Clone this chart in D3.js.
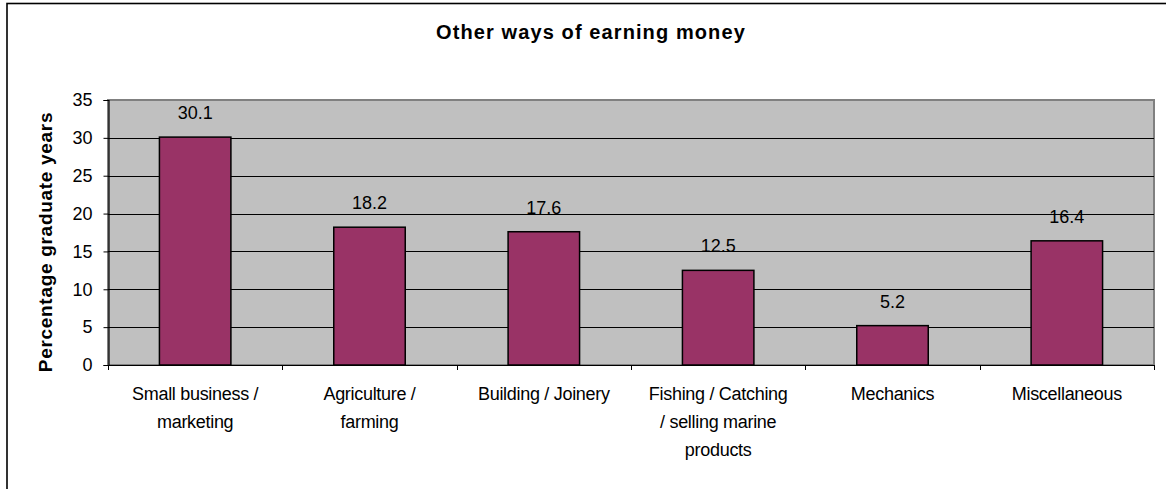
<!DOCTYPE html>
<html>
<head>
<meta charset="utf-8">
<script src="https://cdn.jsdelivr.net/npm/d3@7"></script>
<style>
  html, body { margin: 0; padding: 0; background: #ffffff; }
  svg { display: block; font-family: "Liberation Sans", Arial, sans-serif; }
</style>
</head>
<body>
<svg id="chart" width="1166" height="489"></svg>
<script>
// Chart data
const categories = [
  "Small business / marketing",
  "Agriculture / farming",
  "Building / Joinery",
  "Fishing / Catching / selling marine products",
  "Mechanics",
  "Miscellaneous"
];
const categoryLines = [
  ["Small business /", "marketing"],
  ["Agriculture /", "farming"],
  ["Building / Joinery"],
  ["Fishing / Catching", "/ selling marine", "products"],
  ["Mechanics"],
  ["Miscellaneous"]
];
const values = [30.1, 18.2, 17.6, 12.5, 5.2, 16.4];
const yTicks = [0, 5, 10, 15, 20, 25, 30, 35];
const titleText = "Other ways of earning money";
const yTitleText = "Percentage graduate years";

const svg = d3.select("#chart");

// Plot area
const plot = { left: 108, top: 100, right: 1154, bottom: 365 };

// Outer chart frame (extends past the bottom/right edges)
svg.append("rect")
  .attr("x", 7).attr("y", 3.5)
  .attr("width", 1180).attr("height", 500)
  .attr("fill", "#ffffff")
  .attr("stroke", "#000000")
  .attr("stroke-width", 1.6);

const x = d3.scaleBand()
  .domain(categories)
  .range([plot.left, plot.right])
  .padding(0);

const y = d3.scaleLinear()
  .domain([0, 35])
  .range([plot.bottom, plot.top]);

// Plot background
svg.append("rect")
  .attr("x", plot.left).attr("y", plot.top)
  .attr("width", plot.right - plot.left)
  .attr("height", plot.bottom - plot.top)
  .attr("fill", "#c0c0c0")
  .attr("stroke", "#808080")
  .attr("stroke-width", 2);

// Horizontal gridlines
svg.append("g")
  .selectAll("line")
  .data(yTicks.filter(t => t > 0 && t < 35))
  .join("line")
  .attr("x1", plot.left).attr("x2", plot.right)
  .attr("y1", d => Math.round(y(d)) + 0.5)
  .attr("y2", d => Math.round(y(d)) + 0.5)
  .attr("stroke", "#000000")
  .attr("stroke-width", 1);

// Bars
const barFrac = 0.41;
svg.append("g")
  .selectAll("rect")
  .data(values)
  .join("rect")
  .attr("x", (d, i) => x(categories[i]) + x.bandwidth() * (1 - barFrac) / 2)
  .attr("width", x.bandwidth() * barFrac)
  .attr("y", d => y(d))
  .attr("height", d => y(0) - y(d))
  .attr("fill", "#993366")
  .attr("stroke", "#000000")
  .attr("stroke-width", 1.5);

// Value labels
svg.append("g")
  .selectAll("text")
  .data(values)
  .join("text")
  .attr("x", (d, i) => x(categories[i]) + x.bandwidth() / 2)
  .attr("y", d => y(d) - 18)
  .attr("text-anchor", "middle")
  .attr("font-size", 18)
  .attr("fill", "#000000")
  .text(d => d.toFixed(1));

// Y axis
const yAxis = d3.axisLeft(y)
  .tickValues(yTicks)
  .tickSize(5)
  .tickPadding(11)
  .tickFormat(d3.format("d"));
const gy = svg.append("g")
  .attr("transform", `translate(${plot.left + 0.5},0)`)
  .call(yAxis);
gy.select(".domain").attr("stroke", "#000000").attr("stroke-width", 1.2);
gy.selectAll(".tick line").attr("stroke", "#000000");
gy.selectAll(".tick text")
  .attr("font-size", 18)
  .attr("font-family", "Liberation Sans, Arial, sans-serif")
  .attr("fill", "#000000");

// X axis line with ticks at category boundaries
const boundaries = categories.map(c => x(c)).concat([plot.right]);
const gx = svg.append("g");
gx.append("line")
  .attr("x1", plot.left).attr("x2", plot.right)
  .attr("y1", plot.bottom + 0.5).attr("y2", plot.bottom + 0.5)
  .attr("stroke", "#000000").attr("stroke-width", 1.2);
gx.selectAll("line.tk")
  .data(boundaries)
  .join("line")
  .attr("class", "tk")
  .attr("x1", d => Math.round(d) + 0.5).attr("x2", d => Math.round(d) + 0.5)
  .attr("y1", plot.bottom).attr("y2", plot.bottom + 5)
  .attr("stroke", "#000000");

// Category labels (multi-line)
const lineHeight = 28;
const catText = svg.append("g")
  .selectAll("text")
  .data(categories)
  .join("text")
  .attr("x", d => x(d) + x.bandwidth() / 2)
  .attr("y", plot.bottom + 35)
  .attr("text-anchor", "middle")
  .attr("font-size", 18)
  .attr("letter-spacing", -0.3)
  .attr("fill", "#000000");
catText.each(function(d, i) {
  const t = d3.select(this);
  categoryLines[i].forEach((ln, j) => {
    t.append("tspan")
      .attr("x", x(d) + x.bandwidth() / 2)
      .attr("dy", j === 0 ? 0 : lineHeight)
      .text(ln);
  });
});

// Title
svg.append("text")
  .attr("x", 591)
  .attr("y", 39)
  .attr("text-anchor", "middle")
  .attr("font-size", 20)
  .attr("font-weight", "bold")
  .attr("letter-spacing", 1.1)
  .attr("fill", "#000000")
  .text(titleText);

// Y axis title
svg.append("text")
  .attr("transform", "translate(52,242) rotate(-90)")
  .attr("text-anchor", "middle")
  .attr("font-size", 19)
  .attr("font-weight", "bold")
  .attr("letter-spacing", 0.7)
  .attr("fill", "#000000")
  .text(yTitleText);
</script>
</body>
</html>
